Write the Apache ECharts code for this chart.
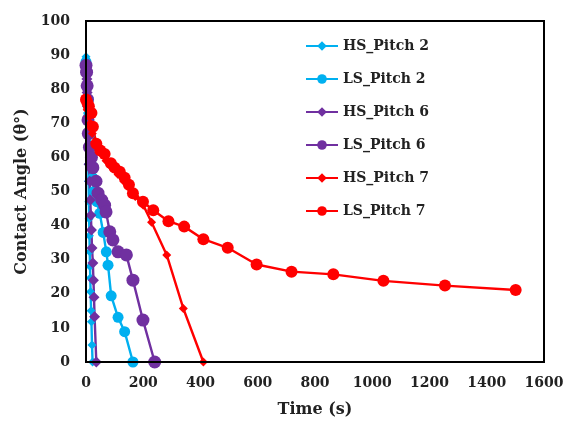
<!DOCTYPE html>
<html><head><meta charset="utf-8">
<script src="https://cdn.jsdelivr.net/npm/echarts@6/dist/echarts.min.js"></script>
<style>html,body{margin:0;padding:0;background:#fff}#wrap{position:relative;width:569px;height:428px}#c{width:569px;height:428px}#frame{position:absolute;box-sizing:border-box;border:2px solid #000;pointer-events:none}</style>
</head><body><div id="wrap"><div id="c"></div><div id="frame"></div></div>
<script>
const xTicks = [0,200,400,600,800,1000,1200,1400,1600];
const yTicks = [0,10,20,30,40,50,60,70,80,90,100];
const seriesNames = ['HS_Pitch 2','LS_Pitch 2','HS_Pitch 6','LS_Pitch 6','HS_Pitch 7','LS_Pitch 7'];
const hsPitch2 = [[0,89.5],[2,86],[3,82],[4,78],[5,73],[6,68],[7,63],[8,58],[9,53],[10,47],[11,42],[12,37],[13,32.3],[14,28],[15,24.6],[16,20.6],[18,15],[19,11.8],[21,5],[23,0]];
const lsPitch2 = [[0,88],[3,85],[5,81],[8,77],[10,72],[13,67],[16,62],[18,58],[24,54],[28,50],[38,47],[48,43.6],[60,38],[71,32.3],[77,28.4],[88,19.4],[112,13.1],[135,8.9],[164,0]];
const hsPitch6 = [[0,87],[2,85],[3,83],[4,79],[5,75],[6,71],[7,67],[9,63],[11,58],[13,53],[15,47.5],[17,43],[19,38.7],[21,33.4],[24,29],[26,24],[28,19],[30,13.3],[36,0]];
const lsPitch6 = [[0,87],[2,85],[4,81],[5,77],[7,71],[8,67],[12,63],[19,60],[24,57],[35,53],[42,49.5],[55,47.5],[65,46],[70,44],[83,38.2],[94,35.8],[112,32.3],[141,31.4],[164,24],[199,12.3],[240,0]];
const hsPitch7 = [[0,76],[4,74],[9,72],[15,70],[22,67],[32,64],[48,61.5],[70,59],[92,57],[112,55],[132,53],[152,51],[172,48.5],[200,46],[229,41],[282,31.4],[340,15.7],[410,0]];
const lsPitch7 = [[0,77],[5,76],[10,75],[19,73],[24,69],[36,64],[50,62],[65,61],[87,58.3],[100,57],[118,55.8],[135,54],[150,52],[164,49.5],[199,47],[235,44.5],[288,41.3],[343,39.7],[410,36],[495,33.5],[596,28.6],[718,26.5],[864,25.7],[1039,23.8],[1254,22.4],[1501,21.1]];

const C2 = '#00B0F0', C6 = '#7030A0', C7 = '#FF0000';
const font = 'DejaVu Serif';
function mk(name, data, color, symbol, size){
  return {name, type:'line', data, symbol, symbolSize:size, showSymbol:true,
    lineStyle:{color, width:2.4}, itemStyle:{color}, z: 3};
}
const frameLine = {show:true, onZero:false, lineStyle:{color:'#000', width:2}};
const chart = echarts.init(document.getElementById('c'));
chart.setOption({
  animation:false,
  backgroundColor:'#fff',
  grid:{left:86, right:25, top:21, bottom:66},
  xAxis:{type:'value', min:0, max:1600, interval:200,
    name:'Time (s)', nameLocation:'middle', nameGap:40,
    nameTextStyle:{fontFamily:font, fontWeight:'bold', fontSize:16, color:'#222'},
    axisLine:frameLine,
    axisTick:{show:false}, splitLine:{show:false},
    axisLabel:{margin:14, fontFamily:font, fontWeight:'bold', fontSize:14, color:'#222',
      formatter:v=>xTicks.includes(v)?String(v):''}},
  yAxis:{type:'value', min:0, max:100, interval:10,
    name:'Contact Angle (θ°)', nameLocation:'middle', nameGap:55, nameRotate:90,
    nameTextStyle:{fontFamily:font, fontWeight:'bold', fontSize:16, color:'#222'},
    axisLine:frameLine,
    axisTick:{show:false}, splitLine:{show:false},
    axisLabel:{margin:16, fontFamily:font, fontWeight:'bold', fontSize:14, color:'#222',
      formatter:v=>yTicks.includes(v)?String(v):''}},
  legend:{orient:'vertical', left:300, top:34, itemWidth:32, itemHeight:12, itemGap:19,
    textStyle:{fontFamily:font, fontWeight:'bold', fontSize:14, color:'#222'},
    data:seriesNames},
  series:[
    mk(seriesNames[0], hsPitch2, C2, 'diamond', 9),
    mk(seriesNames[1], lsPitch2, C2, 'circle', 11),
    mk(seriesNames[2], hsPitch6, C6, 'diamond', 11),
    mk(seriesNames[3], lsPitch6, C6, 'circle', 13),
    mk(seriesNames[4], hsPitch7, C7, 'diamond', 9),
    mk(seriesNames[5], lsPitch7, C7, 'circle', 12)
  ]
});
// plot-area frame placed from the axes' own scale
const pA = chart.convertToPixel({gridIndex:0}, [xTicks[0], yTicks[yTicks.length-1]]);
const pB = chart.convertToPixel({gridIndex:0}, [xTicks[xTicks.length-1], yTicks[0]]);
const fr = document.getElementById('frame');
fr.style.left = (pA[0]-1) + 'px';
fr.style.top = (pA[1]-1) + 'px';
fr.style.width = (pB[0]-pA[0]+2) + 'px';
fr.style.height = (pB[1]-pA[1]+2) + 'px';
</script></body></html>
